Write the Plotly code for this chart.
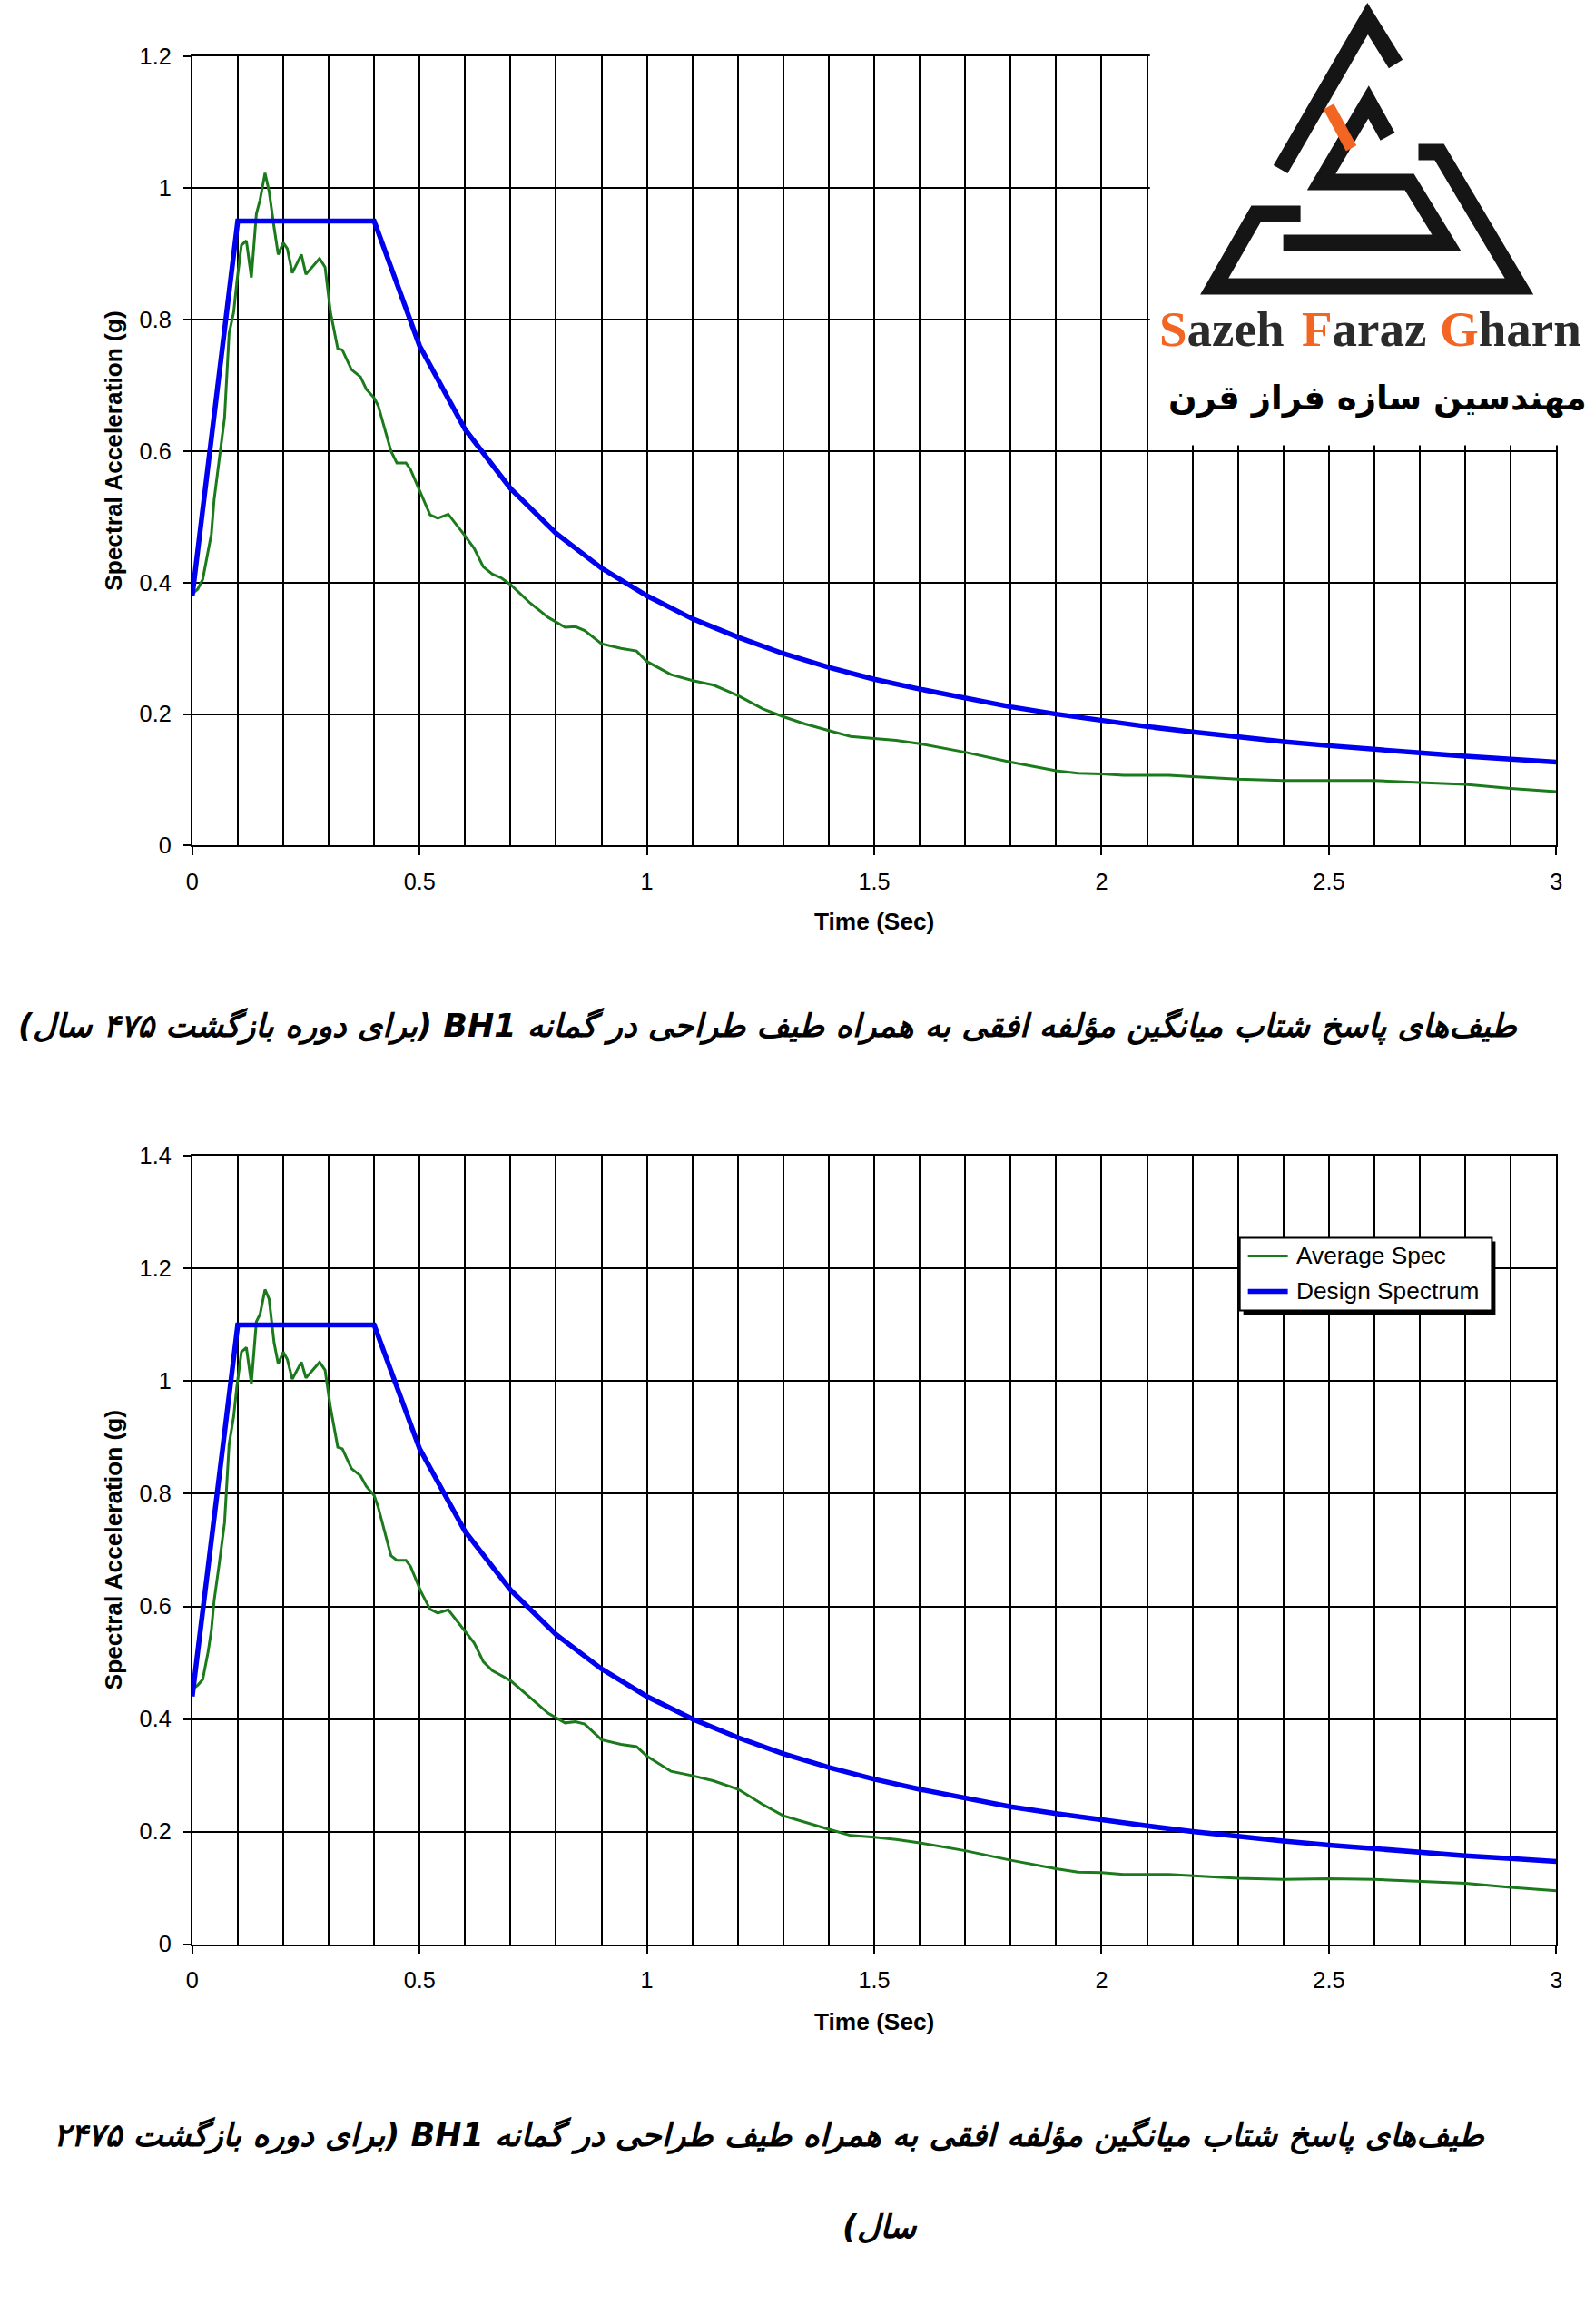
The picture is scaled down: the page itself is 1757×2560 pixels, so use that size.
import plotly.graph_objects as go

# ---------------- data ----------------
avg_t = [0.0, 0.012, 0.023, 0.035, 0.042, 0.048, 0.06, 0.071, 0.081, 0.091, 0.098, 0.108, 0.119, 0.130,
         0.141, 0.149, 0.160, 0.169, 0.180, 0.189, 0.200, 0.209, 0.220, 0.240, 0.250, 0.280, 0.292,
         0.304, 0.320, 0.330, 0.350, 0.370, 0.383, 0.400, 0.409, 0.437, 0.450, 0.470, 0.480, 0.503,
         0.523, 0.540, 0.563, 0.600, 0.620, 0.640, 0.660, 0.680, 0.700, 0.743, 0.783, 0.820, 0.843,
         0.863, 0.900, 0.943, 0.977, 1.000, 1.053, 1.101, 1.147, 1.201, 1.255, 1.300, 1.348, 1.400,
         1.448, 1.500, 1.548, 1.600, 1.700, 1.800, 1.900, 1.948, 2.000, 2.048, 2.148, 2.200, 2.300,
         2.400, 2.500, 2.600, 2.700, 2.800, 2.900, 3.000]

avg_475 = [0.383, 0.39, 0.405, 0.45, 0.474, 0.526, 0.59, 0.651, 0.779, 0.811, 0.857, 0.913, 0.920, 0.864,
           0.961, 0.982, 1.023, 0.995, 0.940, 0.899, 0.917, 0.908, 0.871, 0.899, 0.869, 0.893, 0.880,
           0.811, 0.756, 0.754, 0.724, 0.713, 0.694, 0.681, 0.669, 0.600, 0.582, 0.582, 0.572, 0.535,
           0.503, 0.498, 0.504, 0.471, 0.452, 0.424, 0.413, 0.407, 0.397, 0.369, 0.347, 0.332, 0.333,
           0.327, 0.307, 0.300, 0.296, 0.280, 0.260, 0.251, 0.244, 0.228, 0.208, 0.196, 0.185, 0.175,
           0.166, 0.163, 0.160, 0.155, 0.142, 0.127, 0.114, 0.110, 0.109, 0.107, 0.107, 0.105, 0.101,
           0.099, 0.099, 0.099, 0.096, 0.093, 0.087, 0.082]

avg_2475 = [0.453, 0.46, 0.47, 0.52, 0.558, 0.61, 0.68, 0.749, 0.888, 0.937, 0.99, 1.052, 1.060, 0.996,
            1.106, 1.119, 1.163, 1.146, 1.068, 1.031, 1.052, 1.039, 1.004, 1.034, 1.006, 1.034, 1.020,
            0.953, 0.883, 0.880, 0.845, 0.832, 0.813, 0.797, 0.776, 0.690, 0.682, 0.682, 0.671, 0.626,
            0.595, 0.588, 0.594, 0.556, 0.535, 0.502, 0.486, 0.477, 0.468, 0.438, 0.410, 0.393, 0.395,
            0.391, 0.363, 0.355, 0.351, 0.334, 0.307, 0.299, 0.290, 0.275, 0.248, 0.228, 0.216, 0.204,
            0.193, 0.190, 0.186, 0.180, 0.166, 0.149, 0.134, 0.128, 0.127, 0.124, 0.124, 0.122, 0.117,
            0.115, 0.116, 0.115, 0.111, 0.108, 0.101, 0.095]

design_t = [0.0, 0.1, 0.4, 0.5, 0.6, 0.7, 0.8, 0.9, 1.0, 1.1, 1.2, 1.3, 1.4, 1.5, 1.6, 1.7, 1.8, 1.9,
            2.0, 2.1, 2.2, 2.3, 2.4, 2.5, 2.6, 2.7, 2.8, 2.9, 3.0]
design_475 = [0.38, 0.95, 0.95, 0.76, 0.633, 0.543, 0.475, 0.422, 0.38, 0.345, 0.317, 0.292, 0.271,
              0.253, 0.238, 0.224, 0.211, 0.2, 0.19, 0.181, 0.173, 0.165, 0.158, 0.152, 0.146, 0.141,
              0.136, 0.131, 0.127]
design_2475 = [0.44, 1.1, 1.1, 0.88, 0.733, 0.629, 0.55, 0.489, 0.44, 0.4, 0.367, 0.338, 0.314,
               0.293, 0.275, 0.259, 0.244, 0.232, 0.22, 0.21, 0.2, 0.191, 0.183, 0.176, 0.169, 0.163,
               0.157, 0.152, 0.147]

series_names = ["Average Spec", "Design Spectrum"]
x_title = "Time (Sec)"
y_title = "Spectral Acceleration (g)"
caption_475 = "طیف‌های پاسخ شتاب میانگین مؤلفه افقی به همراه طیف طراحی در گمانه BH1 (برای دوره بازگشت ۴۷۵ سال)"
caption_2475_a = "طیف‌های پاسخ شتاب میانگین مؤلفه افقی به همراه طیف طراحی در گمانه BH1 (برای دوره بازگشت ۲۴۷۵"
caption_2475_b = "سال)"
logo_words = ["Sazeh", "Faraz", "Gharn"]
logo_fa = "مهندسین سازه فراز قرن"

# ---------------- layout helpers ----------------
# target positions are given in page pixels; the page shows the figure at a
# slight offset/scale, compensated here.
W, H = 1757, 2560
SX, OX = 0.993, 5.0
SY, OY = 0.989, 13.6
def px(x):
    return ((x - OX) / SX) / W
def py(y):
    return 1 - ((y - OY) / SY) / H
def fs(s):
    return s / SY

GREEN = "#1B7A1B"
BLUE = "#0000F0"
ORANGE = "#F26522"
AX_FONT = "Liberation Sans, Arial, sans-serif"
FA_FONT = "DejaVu Sans, Noto Sans, sans-serif"
RLE, PDF = "\u202b", "\u202c"

fig = go.Figure()
fig.add_trace(go.Scatter(x=avg_t, y=avg_475, mode="lines", line=dict(color=GREEN, width=3),
                         name=series_names[0], showlegend=False, xaxis="x", yaxis="y"))
fig.add_trace(go.Scatter(x=design_t, y=design_475, mode="lines", line=dict(color=BLUE, width=5.5),
                         name=series_names[1], showlegend=False, xaxis="x", yaxis="y"))
fig.add_trace(go.Scatter(x=avg_t, y=avg_2475, mode="lines", line=dict(color=GREEN, width=3),
                         name=series_names[0], showlegend=False, xaxis="x2", yaxis="y2"))
fig.add_trace(go.Scatter(x=design_t, y=design_2475, mode="lines", line=dict(color=BLUE, width=5.5),
                         name=series_names[1], showlegend=False, xaxis="x2", yaxis="y2"))

def xaxis_cfg(anchor):
    return dict(domain=[px(210), px(1714)], range=[0, 3], tick0=0, dtick=0.5, anchor=anchor,
                showgrid=True, gridcolor="black", gridwidth=1.6,
                minor=dict(tick0=0, dtick=0.1, showgrid=True, gridcolor="black", gridwidth=1.6, ticks=""),
                ticks="outside", ticklen=9, tickwidth=1.5, tickcolor="black",
                showline=True, linecolor="black", linewidth=1.6, mirror=True, zeroline=False,
                tickfont=dict(family=AX_FONT, size=fs(25), color="black"), ticklabelstandoff=7)

def yaxis_cfg(anchor, dom, top):
    return dict(domain=dom, range=[0, top], tick0=0, dtick=0.2, anchor=anchor,
                showgrid=True, gridcolor="black", gridwidth=2,
                ticks="outside", ticklen=8, tickwidth=1.5, tickcolor="black",
                showline=True, linecolor="black", linewidth=2, mirror=True,
                zeroline=True, zerolinecolor="black", zerolinewidth=3.5,
                tickfont=dict(family=AX_FONT, size=fs(25), color="black"), ticklabelstandoff=8)

fig.update_layout(
    width=W, height=H, margin=dict(l=0, r=0, t=0, b=0),
    paper_bgcolor="white", plot_bgcolor="white",
    xaxis=xaxis_cfg("y"),
    yaxis=yaxis_cfg("x", [py(931), py(62)], 1.2),
    xaxis2=xaxis_cfg("y2"),
    yaxis2=yaxis_cfg("x2", [py(2141), py(1273)], 1.4),
    showlegend=False,
)

def ppath(points):
    s = ""
    for i, (x, y) in enumerate(points):
        s += ("M" if i == 0 else "L") + f"{px(x):.5f},{py(y):.5f} "
    return s

def rect(x0, y0, x1, y1, **kw):
    return dict(type="rect", xref="paper", yref="paper", x0=px(x0), x1=px(x1),
                y0=py(y1), y1=py(y0), layer="above", **kw)

shapes = []
# legend box (bottom chart) with drop shadow
shapes.append(rect(1369, 1367, 1647, 1448, fillcolor="black", line=dict(width=0)))
shapes.append(rect(1365, 1363, 1643, 1443, fillcolor="white", line=dict(color="black", width=2)))
legend_rows = [(1383, GREEN, 3), (1422, BLUE, 5.5)]
for yrow, col, wd in legend_rows:
    shapes.append(dict(type="path", xref="paper", yref="paper", path=ppath([(1374, yrow), (1418, yrow)]),
                       line=dict(color=col, width=wd), layer="above"))

# logo backdrop
shapes.append(rect(1266, -20, 1800, 490, fillcolor="white", line=dict(width=0)))
logo_strokes = [
    [(1537, 70), (1506, 20), (1410, 186)],
    [(1432, 235), (1383, 235), (1337, 315), (1673, 315), (1585, 167), (1562, 167)],
    [(1528, 150), (1507, 112), (1455, 200), (1552, 200), (1593, 267), (1413, 267)],
]
for pts in logo_strokes:
    shapes.append(dict(type="path", xref="paper", yref="paper", path=ppath(pts),
                       line=dict(color="#151515", width=18), layer="above"))
shapes.append(dict(type="path", xref="paper", yref="paper", path=ppath([(1463, 117), (1488, 163)]),
                   line=dict(color=ORANGE, width=13), layer="above"))
fig.update_layout(shapes=shapes)

ann = []
# legend texts
for (yrow, _, _), name in zip(legend_rows, series_names):
    ann.append(dict(text=name, x=px(1425), y=py(yrow), xref="paper", yref="paper", showarrow=False,
                    xanchor="left", yanchor="middle", font=dict(family=AX_FONT, size=fs(26), color="black")))
# axis titles
for yc, xc_y in [((62 + 931) / 2, 1015), ((1273 + 2141) / 2, 2226)]:
    ann.append(dict(text=f"<b>{y_title}</b>", x=px(123), y=py(yc), xref="paper", yref="paper",
                    textangle=-90, showarrow=False, xanchor="center", yanchor="middle",
                    font=dict(family=AX_FONT, size=fs(26), color="black")))
    ann.append(dict(text=f"<b>{x_title}</b>", x=px(962), y=py(xc_y), xref="paper", yref="paper",
                    showarrow=False, xanchor="center", yanchor="middle",
                    font=dict(family=AX_FONT, size=fs(26), color="black")))
# captions
for txt, xc, yc in [(caption_475, 845, 1130), (caption_2475_a, 846, 2352), (caption_2475_b, 968, 2452)]:
    ann.append(dict(text=f"<b><i>{RLE}{txt}{PDF}</i></b>", x=px(xc), y=py(yc), xref="paper", yref="paper",
                    showarrow=False, xanchor="center", yanchor="middle",
                    font=dict(family=FA_FONT, size=35, color="black")))
# logo words
for word, x0 in zip(logo_words, [1274, 1431, 1584]):
    styled = f"<b><span style='color:{ORANGE}'>{word[0]}</span>{word[1:]}</b>"
    ann.append(dict(text=styled, x=px(x0), y=py(362), xref="paper", yref="paper",
                    showarrow=False, xanchor="left", yanchor="middle",
                    font=dict(family="Liberation Serif, Times New Roman, serif", size=55, color="#2b2b2b")))
ann.append(dict(text=f"<b>{RLE}{logo_fa}{PDF}</b>", x=px(1517), y=py(438), xref="paper", yref="paper",
                showarrow=False, xanchor="center", yanchor="middle",
                font=dict(family=FA_FONT, size=37, color="black")))
fig.update_layout(annotations=ann)

fig.write_html("out.html")
